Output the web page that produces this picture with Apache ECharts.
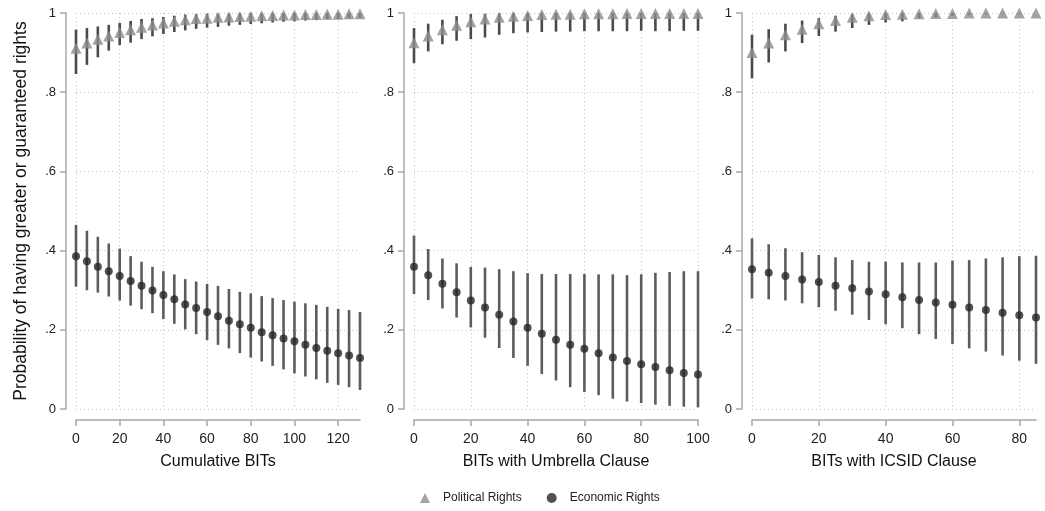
<!DOCTYPE html>
<html>
<head>
<meta charset="utf-8">
<script src="https://cdn.jsdelivr.net/npm/echarts@6/dist/echarts.min.js"></script>
<style>
  html, body { margin: 0; padding: 0; background: #fff; }
  #chart { width: 1045px; height: 511px; }
</style>
</head>
<body>
<div id="chart"></div>
<script>
// Predicted probabilities by number of BITs, three panels

const titles = ['Cumulative BITs', 'BITs with Umbrella Clause', 'BITs with ICSID Clause'];
const yTicks = [0, 0.2, 0.4, 0.6, 0.8, 1];

// Panel 1: cumulative BITs
const bits1 = [0, 5, 10, 15, 20, 25, 30, 35, 40, 45, 50, 55, 60, 65, 70, 75, 80, 85, 90, 95, 100, 105, 110, 115, 120, 125, 130];
const pol1 = [0.911, 0.924, 0.934, 0.942, 0.951, 0.958, 0.964, 0.970, 0.975, 0.979, 0.983, 0.986, 0.987, 0.989, 0.990, 0.991, 0.992, 0.993, 0.994, 0.995, 0.995, 0.996, 0.996, 0.997, 0.997, 0.998, 0.998];
const polLo1 = [0.846, 0.869, 0.888, 0.905, 0.919, 0.925, 0.934, 0.941, 0.947, 0.952, 0.956, 0.960, 0.963, 0.965, 0.968, 0.970, 0.972, 0.974, 0.976, 0.978, 0.979, 0.981, 0.982, 0.984, 0.985, 0.986, 0.987];
const polHi1 = [0.958, 0.962, 0.966, 0.970, 0.975, 0.980, 0.985, 0.987, 0.990, 0.993, 0.996, 0.997, 0.998, 0.998, 0.999, 0.999, 0.999, 0.999, 1.0, 1.0, 1.0, 1.0, 1.0, 1.0, 1.0, 1.0, 1.0];
const eco1 = [0.386, 0.373, 0.359, 0.348, 0.336, 0.323, 0.311, 0.299, 0.288, 0.277, 0.264, 0.255, 0.245, 0.234, 0.223, 0.214, 0.205, 0.194, 0.186, 0.178, 0.171, 0.162, 0.154, 0.147, 0.141, 0.135, 0.129];
const ecoLo1 = [0.309, 0.300, 0.294, 0.284, 0.274, 0.261, 0.252, 0.242, 0.227, 0.215, 0.201, 0.189, 0.174, 0.162, 0.153, 0.141, 0.130, 0.120, 0.109, 0.100, 0.090, 0.082, 0.075, 0.066, 0.061, 0.055, 0.048];
const ecoHi1 = [0.465, 0.450, 0.435, 0.418, 0.405, 0.386, 0.372, 0.359, 0.348, 0.340, 0.328, 0.322, 0.316, 0.311, 0.303, 0.296, 0.292, 0.285, 0.280, 0.275, 0.271, 0.267, 0.263, 0.258, 0.253, 0.250, 0.245];

// Panel 2: BITs with umbrella clause
const bits2 = [0, 5, 10, 15, 20, 25, 30, 35, 40, 45, 50, 55, 60, 65, 70, 75, 80, 85, 90, 95, 100];
const pol2 = [0.925, 0.942, 0.958, 0.969, 0.978, 0.985, 0.989, 0.992, 0.994, 0.996, 0.997, 0.997, 0.998, 0.998, 0.998, 0.999, 0.999, 0.999, 0.999, 0.999, 0.999];
const polLo2 = [0.873, 0.903, 0.921, 0.930, 0.934, 0.938, 0.945, 0.949, 0.951, 0.952, 0.953, 0.953, 0.954, 0.954, 0.954, 0.954, 0.955, 0.954, 0.954, 0.955, 0.955];
const polHi2 = [0.962, 0.973, 0.983, 0.992, 0.997, 0.998, 0.999, 1.0, 1.0, 1.0, 1.0, 1.0, 1.0, 1.0, 1.0, 1.0, 1.0, 1.0, 1.0, 1.0, 1.0];
const eco2 = [0.359, 0.338, 0.316, 0.295, 0.274, 0.256, 0.238, 0.221, 0.205, 0.190, 0.175, 0.162, 0.152, 0.141, 0.130, 0.121, 0.113, 0.106, 0.098, 0.091, 0.087];
const ecoLo2 = [0.290, 0.275, 0.254, 0.231, 0.206, 0.180, 0.154, 0.129, 0.109, 0.088, 0.072, 0.055, 0.043, 0.035, 0.026, 0.019, 0.015, 0.011, 0.008, 0.006, 0.004];
const ecoHi2 = [0.438, 0.404, 0.380, 0.368, 0.359, 0.357, 0.353, 0.348, 0.343, 0.341, 0.341, 0.341, 0.341, 0.340, 0.340, 0.338, 0.340, 0.344, 0.346, 0.348, 0.348];

// Panel 3: BITs with ICSID clause
const bits3 = [0, 5, 10, 15, 20, 25, 30, 35, 40, 45, 50, 55, 60, 65, 70, 75, 80, 85];
const pol3 = [0.900, 0.924, 0.945, 0.959, 0.973, 0.981, 0.989, 0.993, 0.996, 0.997, 0.998, 0.999, 0.999, 1.0, 1.0, 1.0, 1.0, 1.0];
const polLo3 = [0.835, 0.875, 0.903, 0.924, 0.942, 0.953, 0.962, 0.970, 0.976, 0.979, 0.986, 0.989, 0.993, 0.996, 0.998, 0.999, 0.999, 1.0];
const polHi3 = [0.945, 0.959, 0.973, 0.981, 0.987, 0.993, 0.997, 0.999, 1.0, 1.0, 1.0, 1.0, 1.0, 1.0, 1.0, 1.0, 1.0, 1.0];
const eco3 = [0.353, 0.344, 0.336, 0.327, 0.321, 0.311, 0.305, 0.297, 0.290, 0.282, 0.275, 0.269, 0.263, 0.256, 0.250, 0.243, 0.237, 0.231];
const ecoLo3 = [0.279, 0.277, 0.274, 0.267, 0.257, 0.248, 0.238, 0.225, 0.214, 0.204, 0.189, 0.177, 0.164, 0.153, 0.145, 0.135, 0.122, 0.114];
const ecoHi3 = [0.431, 0.416, 0.406, 0.396, 0.389, 0.383, 0.376, 0.372, 0.372, 0.370, 0.370, 0.370, 0.375, 0.376, 0.380, 0.383, 0.386, 0.387];

const xMax = [130, 100, 85];
const xTicks = [
    [0, 20, 40, 60, 80, 100, 120],
    [0, 20, 40, 60, 80, 100],
    [0, 20, 40, 60, 80]
];

const panels = [
    { x: bits1, pol: pol1, polLo: polLo1, polHi: polHi1, eco: eco1, ecoLo: ecoLo1, ecoHi: ecoHi1 },
    { x: bits2, pol: pol2, polLo: polLo2, polHi: polHi2, eco: eco2, ecoLo: ecoLo2, ecoHi: ecoHi2 },
    { x: bits3, pol: pol3, polLo: polLo3, polHi: polHi3, eco: eco3, ecoLo: ecoLo3, ecoHi: ecoHi3 }
];

const FONT = 'Liberation Sans, Arial, sans-serif';
const AXIS_GRAY = '#a8a8a8';
const GRID_DOT = '#c4c4c4';

const gridLefts = [76, 414, 752];

// Draws a vertical interval line from lo to hi
function errorBar(color) {
    return function (params, api) {
        const top = api.coord([api.value(0), api.value(2)]);
        const bottom = api.coord([api.value(0), api.value(1)]);
        return {
            type: 'line',
            shape: { x1: top[0], y1: top[1], x2: bottom[0], y2: bottom[1] },
            style: { stroke: color, lineWidth: 2.6 }
        };
    };
}

function yLabel(v) {
    if (v === 0) return '0';
    if (v === 1) return '1';
    return String(v).replace(/^0/, '');
}

const grid = [];
const xAxis = [];
const yAxis = [];
const series = [];

panels.forEach((p, i) => {
    grid.push({ left: gridLefts[i], width: 284, top: 13, height: 396 });

    xAxis.push({
        gridIndex: i,
        type: 'value',
        min: 0,
        max: xMax[i],
        interval: 20,
        offset: 11,
        name: titles[i],
        nameLocation: 'middle',
        nameGap: 34,
        nameTextStyle: { fontFamily: FONT, fontSize: 16, color: '#111' },
        axisLine: { show: true, onZero: false, lineStyle: { color: AXIS_GRAY, width: 1.5 } },
        axisTick: { show: true, length: 6, customValues: xTicks[i], lineStyle: { color: AXIS_GRAY, width: 1.5 } },
        axisLabel: { customValues: xTicks[i], fontFamily: FONT, fontSize: 14, color: '#222', margin: 12 },
        splitLine: { show: true, lineStyle: { color: GRID_DOT, type: [1, 3], width: 1 } }
    });

    yAxis.push({
        gridIndex: i,
        type: 'value',
        min: 0,
        max: 1,
        interval: 0.2,
        offset: 10,
        name: i === 0 ? 'Probability of having greater or guaranteed rights' : '',
        nameLocation: 'middle',
        nameGap: 36,
        nameRotate: 90,
        nameTextStyle: { fontFamily: FONT, fontSize: 17.5, color: '#111' },
        axisLine: { show: true, onZero: false, lineStyle: { color: AXIS_GRAY, width: 1.5 } },
        axisTick: { show: true, length: 6, lineStyle: { color: AXIS_GRAY, width: 1.5 } },
        axisLabel: { fontFamily: FONT, fontSize: 13, color: '#222', margin: 10, formatter: yLabel },
        splitLine: { show: true, lineStyle: { color: GRID_DOT, type: [1, 3], width: 1 } }
    });

    series.push({
        type: 'custom',
        xAxisIndex: i,
        yAxisIndex: i,
        renderItem: errorBar('#4a4a4a'),
        data: p.x.map((x, k) => [x, p.polLo[k], p.polHi[k]]),
        z: 2,
        silent: true
    });
    series.push({
        type: 'custom',
        xAxisIndex: i,
        yAxisIndex: i,
        renderItem: errorBar('#5c5c5c'),
        data: p.x.map((x, k) => [x, p.ecoLo[k], p.ecoHi[k]]),
        z: 2,
        silent: true
    });
    series.push({
        name: 'Political Rights',
        type: 'scatter',
        xAxisIndex: i,
        yAxisIndex: i,
        symbol: 'triangle',
        symbolSize: 11,
        itemStyle: { color: '#8c8c8c' },
        data: p.x.map((x, k) => [x, p.pol[k]]),
        z: 3
    });
    series.push({
        name: 'Economic Rights',
        type: 'scatter',
        xAxisIndex: i,
        yAxisIndex: i,
        symbol: 'circle',
        symbolSize: 8,
        itemStyle: { color: '#262626' },
        data: p.x.map((x, k) => [x, p.eco[k]]),
        z: 3
    });
});

const chart = echarts.init(document.getElementById('chart'));

chart.setOption({
    backgroundColor: '#fff',
    animation: false,
    grid: grid,
    xAxis: xAxis,
    yAxis: yAxis,
    legend: {
        left: 415,
        top: 487,
        itemWidth: 10,
        itemHeight: 10,
        itemGap: 25,
        textStyle: { fontFamily: FONT, fontSize: 12, color: '#222', padding: [0, 0, 0, 8] },
        data: [
            { name: 'Political Rights', icon: 'triangle', itemStyle: { color: '#8c8c8c' } },
            { name: 'Economic Rights', icon: 'circle', itemStyle: { color: '#262626' } }
        ]
    },
    series: series
});

window.addEventListener('resize', () => chart.resize());
</script>
</body>
</html>
